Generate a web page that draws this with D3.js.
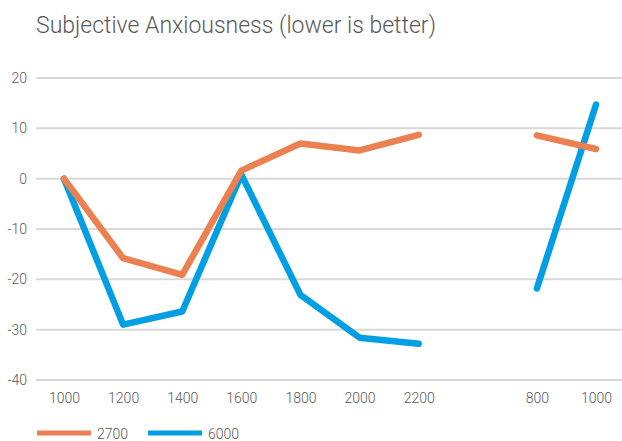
<!DOCTYPE html>
<html>
<head>
<meta charset="utf-8">
<script src="https://cdn.jsdelivr.net/npm/d3@7"></script>
<style>
	body { margin: 0; background: #fff; }
	svg { display: block; font-family: Roboto, "DejaVu Sans", sans-serif; }
</style>
</head>
<body>
<div id="chart"></div>
<script>
// categories on the x axis, "" is the empty slot between the two groups
let categories = ['1000','1200','1400','1600','1800','2000','2200','','800','1000']
let yTicks = [-40,-30,-20,-10,0,10,20]

let series2700 = [0,-15.8,-19.1,1.6,7.0,5.6,8.7,null,8.6,5.9]
let series6000 = [0,-29.0,-26.4,0.8,-23.1,-31.6,-32.8,null,-21.8,14.7]

let seriesNames = ['2700','6000']
let seriesColors = ['#EB8150','#009FE3']

let width = 622, height = 441

let svg = d3.select('#chart')
	.append('svg')
	.attr('width', width)
	.attr('height', height)

svg.append('text')
	.attr('x', 36)
	.attr('y', 33)
	.attr('fill', '#595959')
	.style('font-size', '23px')
	.style('font-weight', 300)
	.text('Subjective Anxiousness (lower is better)')

// use index positions so the two "1000" labels stay separate
let x = d3.scalePoint()
	.domain(d3.range(categories.length))
	.range([64, 596])

let y = d3.scaleLinear()
	.domain([-40, 20])
	.range([380, 78])

// gridlines
svg.append('g')
	.selectAll('line')
	.data(yTicks)
	.enter()
	.append('line')
	.attr('x1', 36)
	.attr('x2', 622)
	.attr('y1', function(d){ return y(d) })
	.attr('y2', function(d){ return y(d) })
	.attr('stroke', '#d9d9d9')
	.attr('stroke-width', 2)

let yAxis = svg.append('g')
	.attr('transform', 'translate(27,0)')
	.call(d3.axisLeft(y).tickValues(yTicks).tickSize(0).tickPadding(0)
		.tickFormat(function(d){ return String(d) }))
yAxis.select('.domain').remove()
yAxis.selectAll('text')
	.attr('fill', '#595959')
	.style('font-size', '14px')
	.style('font-weight', 300)
	.style('font-family', 'Roboto, sans-serif')

let xAxis = svg.append('g')
	.attr('transform', 'translate(0,390)')
	.call(d3.axisBottom(x).tickSize(0).tickPadding(0).tickFormat(function(i){ return categories[i] }))
xAxis.select('.domain').remove()
xAxis.selectAll('text')
	.attr('dy', '0.9em')
	.attr('fill', '#595959')
	.style('font-size', '14px')
	.style('font-weight', 300)
	.style('font-family', 'Roboto, sans-serif')

let line = d3.line()
	.defined(function(d){ return d != null })
	.x(function(d, i){ return x(i) })
	.y(function(d){ return y(d) })

let allSeries = [series2700, series6000]

// draw 6000 first so 2700 sits on top where they cross
;[1,0].forEach(function(k){
	svg.append('path')
		.datum(allSeries[k])
		.attr('fill', 'none')
		.attr('stroke', seriesColors[k])
		.attr('stroke-width', 6.5)
		.attr('stroke-linecap', 'round')
		.attr('stroke-linejoin', 'round')
		.attr('d', line)
})

// legend
let legend = svg.append('g')
	.selectAll('g')
	.data(seriesNames)
	.enter()
	.append('g')
	.attr('transform', function(d, i){ return 'translate(' + (37 + i*111) + ',433)' })

legend.append('line')
	.attr('x1', 0)
	.attr('x2', 54)
	.attr('stroke', function(d, i){ return seriesColors[i] })
	.attr('stroke-width', 5)

legend.append('text')
	.attr('x', 60)
	.attr('y', 6)
	.attr('fill', '#595959')
	.style('font-size', '14px')
	.style('font-weight', 300)
	.text(function(d){ return d })
</script>
</body>
</html>
